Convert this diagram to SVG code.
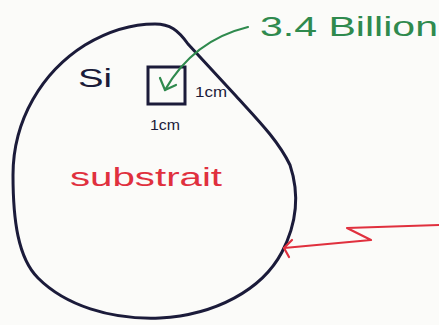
<svg xmlns="http://www.w3.org/2000/svg" width="439" height="325" viewBox="0 0 439 325">
<style>
.outline{fill:none;stroke:#1b1b3a;stroke-width:3;stroke-linecap:round;stroke-linejoin:round}
.green{fill:none;stroke:#2f8a4e;stroke-width:2.2;stroke-linecap:round;stroke-linejoin:round}
.red{fill:none;stroke:#e0303e;stroke-width:2.2;stroke-linecap:round;stroke-linejoin:round}
.t{font-family:"Liberation Sans",Arial,sans-serif}
</style>
<rect width="439" height="325" fill="#fbfbf9"/>
<g id="substrate">
<path class="outline" d="M13,175 C13,120 42,72 85,45 C110,30 135,24 155,24 C170,24 178,30 188,44 L236,96 C256,118 278,140 290,165 C300,195 296,225 282,252 C262,290 215,315 160,318 C110,320 65,305 38,278 C18,258 13,220 13,175 Z"/>
<text class="t" x="78" y="87" font-size="26" fill="#1b1b3a" textLength="34" lengthAdjust="spacingAndGlyphs">Si</text>
<text class="t" x="70" y="186" font-size="25" fill="#e0303e" textLength="152" lengthAdjust="spacingAndGlyphs">substrait</text>
</g>
<g id="chip">
<rect x="148" y="67" width="37" height="37" fill="none" stroke="#1b1b3a" stroke-width="3"/>
<text class="t" x="195" y="97" font-size="14" fill="#1b1b3a" textLength="32" lengthAdjust="spacingAndGlyphs">1cm</text>
<text class="t" x="150" y="130" font-size="14" fill="#1b1b3a" textLength="30" lengthAdjust="spacingAndGlyphs">1cm</text>
</g>
<g id="label">
<text class="t" x="260" y="36" font-size="27" fill="#2f8a4e" textLength="178" lengthAdjust="spacingAndGlyphs">3.4 Billion</text>
</g>
<g id="connectors">
<path class="green" d="M248,27 C215,35 185,55 165,90"/>
<path class="green" d="M160,78 L165,90 L176,85"/>
<path class="red" d="M439,225 L347,228 L371,240 L284,248"/>
<path class="red" d="M292,240 L284,248 L289,257"/>
</g>
</svg>
